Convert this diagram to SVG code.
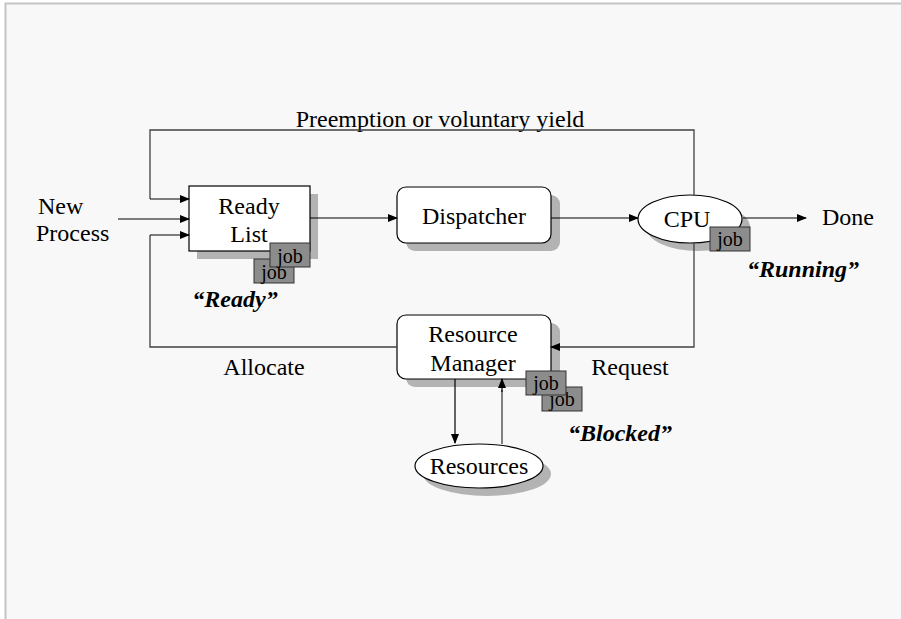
<svg xmlns="http://www.w3.org/2000/svg" width="901" height="619" viewBox="0 0 901 619">
<defs>
<marker id="ah" markerWidth="10" markerHeight="8" refX="9" refY="4" orient="auto" markerUnits="userSpaceOnUse">
<path d="M0,0 L10,4 L0,8 z" fill="#000"/>
</marker>
<style>
.t{font-family:"Liberation Serif","Times New Roman",serif;font-size:24px;fill:#000}
.bi{font-family:"Liberation Serif","Times New Roman",serif;font-size:24px;font-weight:bold;font-style:italic;fill:#000}
.j{font-family:"Liberation Serif","Times New Roman",serif;font-size:20px;fill:#000}
.box{fill:#fff;stroke:#000;stroke-width:1.2}
.sh{fill:#b3b3b3}
.jb{fill:#8c8c8c;stroke:#333;stroke-width:1}
.ln{fill:none;stroke:#404040;stroke-width:1.3}
.la{fill:none;stroke:#000;stroke-width:1.2;marker-end:url(#ah)}
</style>
</defs>
<rect x="0" y="0" width="901" height="619" fill="#fff"/>
<rect x="5" y="3" width="896" height="616" fill="#f8f8f8"/>
<path d="M5.5,619 V3.5 H901" fill="none" stroke="#c4c4c4" stroke-width="2"/>

<g id="label-preemption"><text class="t" x="440" y="127" text-anchor="middle">Preemption or voluntary yield</text></g>
<g id="label-newprocess">
<text class="t" x="38" y="214">New</text>
<text class="t" x="36" y="241">Process</text>
</g>

<g id="ready-list">
<rect class="sh" x="197" y="194" width="121" height="65"/>
<rect class="box" x="189" y="186" width="121" height="65"/>
<text class="t" x="249" y="214" text-anchor="middle">Ready</text>
<text class="t" x="249" y="242" text-anchor="middle">List</text>
<rect class="jb" x="254" y="259" width="40" height="24"/>
<text class="j" x="274" y="279" text-anchor="middle">job</text>
<rect class="jb" x="270" y="243" width="40" height="24"/>
<text class="j" x="290" y="263" text-anchor="middle">job</text>
<text class="bi" x="235" y="307" text-anchor="middle">“Ready”</text>
</g>

<g id="dispatcher">
<rect class="sh" x="406" y="195" width="154" height="56" rx="9"/>
<rect class="box" x="397" y="187" width="154" height="56" rx="9"/>
<text class="t" x="474" y="224" text-anchor="middle">Dispatcher</text>
</g>

<g id="cpu">
<ellipse class="sh" cx="698" cy="227" rx="52" ry="24"/>
<ellipse class="box" cx="690" cy="219" rx="52" ry="24"/>
<text class="t" x="687" y="227" text-anchor="middle">CPU</text>
<rect class="jb" x="710" y="227" width="40" height="24"/>
<text class="j" x="730" y="246" text-anchor="middle">job</text>
<text class="bi" x="803" y="277" text-anchor="middle">“Running”</text>
</g>

<g id="done"><text class="t" x="848" y="225" text-anchor="middle">Done</text></g>

<g id="resource-manager">
<rect class="sh" x="406" y="323" width="154" height="64" rx="9"/>
<rect class="box" x="397" y="315" width="154" height="64" rx="9"/>
<text class="t" x="473" y="342" text-anchor="middle">Resource</text>
<text class="t" x="473" y="371" text-anchor="middle">Manager</text>
<rect class="jb" x="542" y="387" width="40" height="24"/>
<text class="j" x="562" y="406" text-anchor="middle">job</text>
<rect class="jb" x="526" y="371" width="40" height="24"/>
<text class="j" x="546" y="390" text-anchor="middle">job</text>
<text class="bi" x="620" y="441" text-anchor="middle">“Blocked”</text>
</g>

<g id="label-allocate"><text class="t" x="264" y="375" text-anchor="middle">Allocate</text></g>
<g id="label-request"><text class="t" x="630" y="375" text-anchor="middle">Request</text></g>

<g id="resources">
<ellipse class="sh" cx="487" cy="474" rx="64" ry="22"/>
<ellipse class="box" cx="479" cy="466" rx="64" ry="22"/>
<text class="t" x="479" y="474" text-anchor="middle">Resources</text>
</g>

<g id="connectors">
<path class="ln" d="M694,195 V130 H150 V199"/>
<path class="la" d="M150,199 H189"/>
<path class="la" d="M118,219 H189"/>
<path class="ln" d="M397,347 H150 V235"/>
<path class="la" d="M150,235 H189"/>
<path class="la" d="M310,218 H397"/>
<path class="la" d="M551,218 H638"/>
<path class="la" d="M743,218 H806"/>
<path class="ln" d="M694,243 V347 H560"/>
<path class="la" d="M560,347 H551"/>
<path class="la" d="M455,379 V443"/>
<path class="ln" d="M502,444 V390"/>
<path class="la" d="M502,392 V379"/>
</g>
</svg>
